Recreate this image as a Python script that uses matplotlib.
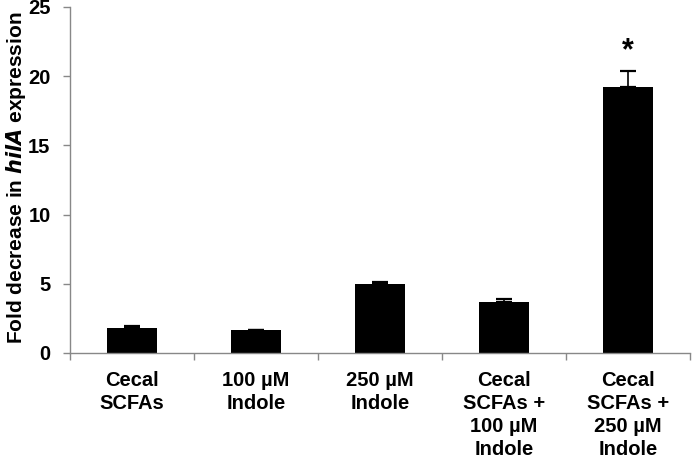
import numpy as np
import matplotlib.pyplot as plt

plt.rcParams['font.family'] = ['Liberation Sans', 'DejaVu Sans']
plt.rcParams['font.weight'] = 'bold'

categories = ['Cecal\nSCFAs', '100 µM\nIndole', '250 µM\nIndole',
              'Cecal\nSCFAs +\n100 µM\nIndole', 'Cecal\nSCFAs +\n250 µM\nIndole']
values = [1.8, 1.66, 4.96, 3.66, 19.25]
errors = [0.13, 0.0, 0.19, 0.22, 1.15]
signif = ['', '', '', '', '*']

axis_gray = '#888888'

fig = plt.figure(figsize=(6.95, 4.62), dpi=100)
ax = fig.add_axes([0.1007, 0.236, 0.8923, 0.749])

x = np.arange(len(categories))
ax.bar(x, values, width=0.4, color='black', zorder=2)
ax.errorbar(x, values, yerr=[np.zeros(len(errors)), errors], fmt='none',
            ecolor='black', elinewidth=1.2, capsize=6, capthick=1.6, zorder=3)

for xi, v, e, s in zip(x, values, errors, signif):
    if s:
        ax.annotate(s, (xi, v + e), xytext=(0, 3), textcoords='offset points',
                    ha='center', va='bottom', fontsize=22, fontweight='bold')

ax.set_xlim(-0.5, len(categories) - 0.5)
ax.set_ylim(0, 25)
ax.set_yticks(range(0, 26, 5))
ax.set_xticks(x)
ax.set_xticklabels(categories, fontsize=14.5, fontweight='bold', linespacing=1.27)
ax.set_xticks(np.arange(-0.5, len(categories)), minor=True)
ax.tick_params(axis='x', which='major', length=0, pad=13)
ax.tick_params(axis='x', which='minor', length=5, color=axis_gray, width=1)
ax.tick_params(axis='y', length=5, color=axis_gray, width=1, labelsize=14.5, pad=9)
for lbl in ax.get_yticklabels():
    lbl.set_fontweight('bold')

ax.set_ylabel(r'Fold decrease in $\bfit{hilA}$ expression', fontsize=15,
              fontweight='bold')
ax.yaxis.set_label_coords(-0.067, 0.507)

for side in ['top', 'right']:
    ax.spines[side].set_visible(False)
for side in ['left', 'bottom']:
    ax.spines[side].set_color(axis_gray)
    ax.spines[side].set_linewidth(1)

fig.savefig('out.png', dpi=100)
